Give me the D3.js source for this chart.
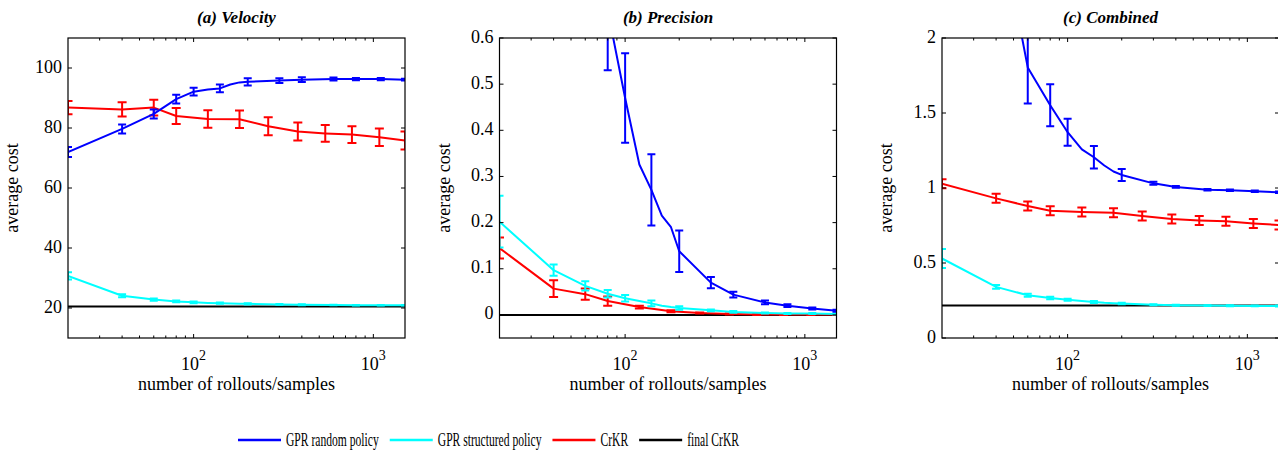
<!DOCTYPE html>
<html>
<head>
<meta charset="utf-8">
<script src="https://cdn.jsdelivr.net/npm/d3@7/dist/d3.min.js"></script>
<style>
  body { margin: 0; background: #fff; }
  svg { display: block; }
</style>
</head>
<body>
<svg id="chart" width="1278" height="450" font-family="'Liberation Serif', 'Times New Roman', 'DejaVu Serif', serif"></svg>
<script>
// number of rollouts/samples where the curves have points
const xGpr = [20, 40, 60, 80, 100, 120, 140, 160, 180, 200, 300, 400, 600, 800, 1100, 1500];
const xCrkr = [20, 40, 60, 80, 120, 180, 260, 380, 540, 760, 1080, 1500];

// (a) Velocity  (null err = no error bar at that point)
const velRandom = [72, 79.7, 84.7, 89.6, 92.1, 92.8, 93.2, 94.5, 95.2, 95.4, 95.8, 96.1, 96.3, 96.3, 96.3, 96.1];
const velRandomErr = [1.7, 1.5, 1.5, 1.45, 1.3, null, 1.3, null, null, 1.2, 0.8, 0.8, 0.5, 0.4, 0.4, 0.3];
const velStruct = [30.7, 24.1, 22.8, 22.2, 21.9, 21.7, 21.6, 21.5, 21.4, 21.4, 21.2, 21.1, 21.0, 20.9, 20.9, 20.9];
const velStructErr = [1.2, 0.5, 0.4, 0.3, 0.3, null, 0.2, null, null, 0.2, 0.15, 0.15, 0.1, 0.1, 0.1, 0.1];
const velCrkr = [86.8, 86.2, 86.8, 84.0, 83.0, 82.9, 80.6, 78.8, 78.2, 77.8, 76.9, 75.8];
const velCrkrErr = [2.2, 2.4, 2.6, 2.7, 2.9, 2.9, 3.0, 3.0, 2.8, 2.8, 2.9, 3.0];
const velFinal = 20.5;

// (b) Precision
const precRandom = [2.0, 1.3, 0.9, 0.66, 0.47, 0.326, 0.271, 0.215, 0.19, 0.138, 0.070, 0.044, 0.027, 0.020, 0.014, 0.009];
const precRandomErr = [0.3, 0.25, 0.18, 0.13, 0.097, null, 0.077, null, null, 0.045, 0.012, 0.006, 0.004, 0.003, 0.002, 0.002];
const precStruct = [0.202, 0.097, 0.063, 0.046, 0.036, 0.030, 0.025, 0.020, 0.017, 0.015, 0.010, 0.0065, 0.004, 0.003, 0.003, 0.002];
const precStructErr = [0.056, 0.012, 0.01, 0.008, 0.007, null, 0.006, null, null, 0.004, 0.002, 0.002, 0.001, 0.001, 0.001, 0.001];
const precCrkr = [0.145, 0.057, 0.045, 0.030, 0.017, 0.008, 0.004, 0.002, 0.001, 0.001, 0.001, 0.001];
const precCrkrErr = [0.023, 0.018, 0.012, 0.01, 0.003, 0.002, 0.001, 0.001, 0.001, 0.001, 0.001, 0.001];
const precFinal = 0;

// (c) Combined
const combRandom = [4.2, 2.9, 1.804, 1.552, 1.372, 1.258, 1.205, 1.15, 1.11, 1.087, 1.031, 1.007, 0.989, 0.985, 0.978, 0.971];
const combRandomErr = [0.6, 0.4, 0.24, 0.14, 0.09, null, 0.075, null, null, 0.04, 0.01, 0.006, 0.005, 0.005, 0.005, 0.005];
const combStruct = [0.530, 0.341, 0.285, 0.267, 0.255, 0.247, 0.240, 0.235, 0.232, 0.230, 0.222, 0.218, 0.216, 0.215, 0.214, 0.213];
const combStructErr = [0.063, 0.012, 0.01, 0.008, 0.007, null, 0.006, null, null, 0.005, 0.003, 0.003, 0.003, 0.003, 0.003, 0.003];
const combCrkr = [1.029, 0.931, 0.880, 0.849, 0.840, 0.835, 0.813, 0.793, 0.784, 0.778, 0.764, 0.753];
const combCrkrErr = [0.03, 0.03, 0.03, 0.03, 0.03, 0.03, 0.03, 0.03, 0.03, 0.03, 0.03, 0.03];
const combFinal = 0.216;

const titles = ['(a) Velocity', '(b) Precision', '(c) Combined'];
const yDomains = [[10, 110], [-0.05, 0.6], [0, 2]];
const yTickVals = [[20, 40, 60, 80, 100], [0, 0.1, 0.2, 0.3, 0.4, 0.5, 0.6], [0, 0.5, 1, 1.5, 2]];
const xMajor = [100, 1000];
const xMinor = [30, 40, 50, 60, 70, 80, 90, 200, 300, 400, 500, 600, 700, 800, 900];
const seriesNames = ['GPR random policy', 'GPR structured policy', 'CrKR', 'final CrKR'];
const colors = ['#0000ff', '#00ffff', '#ff0000', '#000000'];

const panels = [
  {random: velRandom, randomErr: velRandomErr, struct: velStruct, structErr: velStructErr,
   crkr: velCrkr, crkrErr: velCrkrErr, final: velFinal},
  {random: precRandom, randomErr: precRandomErr, struct: precStruct, structErr: precStructErr,
   crkr: precCrkr, crkrErr: precCrkrErr, final: precFinal},
  {random: combRandom, randomErr: combRandomErr, struct: combStruct, structErr: combStructErr,
   crkr: combCrkr, crkrErr: combCrkrErr, final: combFinal}
];

const svg = d3.select('#chart');
const lefts = [68, 499.5, 942];
const plotTop = 38, w = 337, h = 300;

panels.forEach((p, i) => {
  const g = svg.append('g').attr('transform', 'translate(' + lefts[i] + ',' + plotTop + ')');
  const x = d3.scaleLog().domain([20, 1500]).range([0, w]);
  const y = d3.scaleLinear().domain(yDomains[i]).range([h, 0]);

  g.append('clipPath').attr('id', 'clip' + i)
    .append('rect').attr('width', w).attr('height', h);
  const plot = g.append('g').attr('clip-path', 'url(#clip' + i + ')');

  const line = d3.line().x(d => x(d[0])).y(d => y(d[1]));

  // final CrKR
  plot.append('path')
    .attr('d', line([[20, p.final], [1500, p.final]]))
    .attr('stroke', colors[3]).attr('stroke-width', 2).attr('fill', 'none');

  function series(xs, ys, errs, color, cap) {
    const pts = xs.map((v, k) => [v, ys[k], errs[k]]);
    plot.append('path')
      .attr('d', line(pts))
      .attr('stroke', color).attr('stroke-width', 2).attr('fill', 'none')
      .attr('stroke-linejoin', 'round');
    const bars = plot.append('g').attr('stroke', color).attr('stroke-width', 2).attr('fill', 'none');
    pts.filter(d => d[2] != null).forEach(d => {
      const cx = x(d[0]), y0 = y(d[1] - d[2]), y1 = y(d[1] + d[2]);
      bars.append('path').attr('d',
        'M' + cx + ',' + y0 + 'V' + y1 +
        'M' + (cx - cap / 2) + ',' + y0 + 'H' + (cx + cap / 2) +
        'M' + (cx - cap / 2) + ',' + y1 + 'H' + (cx + cap / 2));
    });
  }
  series(xCrkr, p.crkr, p.crkrErr, colors[2], 9);
  series(xGpr, p.struct, p.structErr, colors[1], 8);
  series(xGpr, p.random, p.randomErr, colors[0], 8);

  // frame and inward ticks on all sides
  g.append('rect').attr('width', w).attr('height', h)
    .attr('fill', 'none').attr('stroke', '#000').attr('stroke-width', 1.2);
  const ticks = g.append('g').attr('stroke', '#000').attr('stroke-width', 1);
  xMajor.concat(xMinor).forEach(v => {
    const len = xMajor.includes(v) ? 4 : 2.5;
    const tx = x(v);
    ticks.append('line').attr('x1', tx).attr('x2', tx).attr('y1', h).attr('y2', h - len);
    ticks.append('line').attr('x1', tx).attr('x2', tx).attr('y1', 0).attr('y2', len);
  });
  yTickVals[i].forEach(v => {
    const ty = y(v);
    ticks.append('line').attr('x1', 0).attr('x2', 4).attr('y1', ty).attr('y2', ty);
    ticks.append('line').attr('x1', w).attr('x2', w - 4).attr('y1', ty).attr('y2', ty);
    g.append('text').attr('x', -6).attr('y', ty).attr('dy', '0.25em')
      .attr('text-anchor', 'end').attr('font-size', 18).text(d3.format('~g')(v));
  });
  xMajor.forEach(v => {
    const t = g.append('text').attr('x', x(v)).attr('y', 369.5 - plotTop)
      .attr('text-anchor', 'middle').attr('font-size', 18);
    t.append('tspan').text('10');
    t.append('tspan').attr('dy', -10).attr('font-size', 14).text(Math.round(Math.log10(v)));
  });

  g.append('text').attr('x', w / 2).attr('y', 23 - plotTop)
    .attr('text-anchor', 'middle').attr('font-size', 17)
    .attr('font-weight', 'bold').attr('font-style', 'italic').text(titles[i]);
  g.append('text').attr('x', w / 2).attr('y', 390 - plotTop)
    .attr('text-anchor', 'middle').attr('font-size', 18).text('number of rollouts/samples');
  g.append('text').attr('transform', 'translate(-50,' + h / 2 + ') rotate(-90)')
    .attr('text-anchor', 'middle').attr('font-size', 18).text('average cost');
});

// legend (text is horizontally condensed, as in the source figure)
const legend = svg.append('g').attr('transform', 'translate(238,440)');
let lx = 0;
seriesNames.forEach((name, k) => {
  legend.append('line').attr('x1', lx).attr('x2', lx + 43).attr('y1', 0).attr('y2', 0)
    .attr('stroke', colors[k]).attr('stroke-width', 2.5);
  const t = legend.append('text')
    .attr('transform', 'translate(' + (lx + 48) + ',6) scale(0.645,1)')
    .attr('font-size', 18).text(name);
  lx += 48 + t.node().getComputedTextLength() * 0.645 + 11;
});
</script>
</body>
</html>
